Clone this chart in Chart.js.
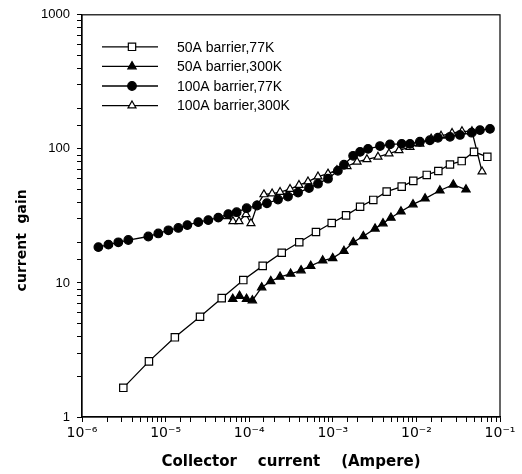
<!DOCTYPE html>
<html>
<head>
<meta charset="utf-8">
<script src="https://cdn.jsdelivr.net/npm/chart.js@4.4.0/dist/chart.umd.min.js"></script>
<style>
  html, body { margin: 0; padding: 0; background: #fff; }
  #wrap { width: 522px; height: 474px; position: relative; }
</style>
</head>
<body>
<div id="wrap"><canvas id="container"></canvas></div>
<script>
// collector current (A) and current gain
const b50_77K_current = [3.12e-6, 6.32e-6, 1.29e-5, 2.58e-5, 4.69e-5, 8.5e-5, 1.45e-4, 2.45e-4, 3.97e-4, 6.29e-4, 9.7e-4, 1.44e-3, 2.12e-3, 3.05e-3, 4.41e-3, 6.67e-3, 9.18e-3, 1.33e-2, 1.83e-2, 2.52e-2, 3.48e-2, 4.89e-2, 7.05e-2];
const b50_77K_gain = [1.65, 2.6, 3.93, 5.59, 7.7, 10.5, 13.4, 16.8, 20.1, 24.0, 28.0, 31.9, 37.0, 41.6, 48.0, 52.3, 57.7, 63.9, 68.4, 76.5, 81.1, 95.0, 87.2];

const b50_300K_current = [6.35e-5, 7.66e-5, 9.29e-5, 1.09e-4, 1.41e-4, 1.81e-4, 2.34e-4, 3.13e-4, 4.17e-4, 5.44e-4, 7.57e-4, 9.97e-4, 1.36e-3, 1.76e-3, 2.32e-3, 3.2e-3, 3.98e-3, 4.96e-3, 6.54e-3, 9.1e-3, 1.27e-2, 1.91e-2, 2.76e-2, 3.92e-2];
const b50_300K_gain = [7.6, 8.0, 7.6, 7.4, 9.26, 10.3, 11.1, 11.7, 12.4, 13.4, 14.7, 15.3, 17.3, 20.1, 22.3, 25.4, 27.8, 30.6, 34.1, 38.5, 42.6, 48.9, 54.1, 49.7];

const b100_77K_current = [1.57e-6, 2.07e-6, 2.72e-6, 3.58e-6, 6.21e-6, 8.18e-6, 1.08e-5, 1.42e-5, 1.82e-5, 2.46e-5, 3.24e-5, 4.27e-5, 5.62e-5, 7.08e-5, 9.33e-5, 1.24e-4, 1.63e-4, 2.21e-4, 2.91e-4, 3.84e-4, 5.19e-4, 6.65e-4, 8.76e-4, 1.15e-3, 1.36e-3, 1.75e-3, 2.12e-3, 2.64e-3, 3.67e-3, 4.83e-3, 6.67e-3, 8.38e-3, 1.1e-2, 1.45e-2, 1.81e-2, 2.52e-2, 3.32e-2, 4.58e-2, 5.76e-2, 7.59e-2];
const b100_77K_gain = [18.5, 19.3, 20.1, 20.9, 22.2, 23.4, 24.7, 25.7, 27.0, 28.4, 29.4, 30.7, 32.6, 33.7, 36.1, 37.8, 39.3, 41.9, 44.1, 47.2, 51.0, 55.0, 59.9, 68.7, 76.1, 88.8, 95.0, 100, 105, 108, 109, 109, 113, 116, 121, 123, 127, 132, 138, 141];

const b100_300K_current = [5.42e-5, 6.39e-5, 7.55e-5, 9.16e-5, 1.05e-4, 1.24e-4, 1.5e-4, 1.88e-4, 2.34e-4, 3.08e-4, 3.94e-4, 5.05e-4, 6.65e-4, 8.76e-4, 1.12e-3, 1.48e-3, 1.95e-3, 2.56e-3, 3.47e-3, 4.7e-3, 6.19e-3, 8.38e-3, 1.1e-2, 1.5e-2, 1.97e-2, 2.67e-2, 3.51e-2, 4.62e-2, 6.1e-2];
const b100_300K_gain = [31.4, 28.8, 28.8, 32.5, 27.8, 37.8, 45.7, 46.4, 47.6, 50.1, 53.7, 57.0, 62.1, 65.3, 69.3, 74.2, 80.1, 83.6, 87.2, 92.3, 97.5, 103, 109, 119, 125, 131, 135, 135, 67.6];

const seriesLabels = ["50A barrier,77K", "50A barrier,300K", "100A barrier,77K", "100A barrier,300K"];
const xTickLabels = { "-6": "10⁻⁶", "-5": "10⁻⁵", "-4": "10⁻⁴", "-3": "10⁻³", "-2": "10⁻²", "-1": "10⁻¹" };
const yTickLabels = { "0": "1", "1": "10", "2": "100", "3": "1000" };

const toPoints = (xs, ys) => xs.map((x, i) => ({ x: x, y: ys[i] }));

function decade(v) {
  const l = Math.log10(v);
  const r = Math.round(l);
  return Math.abs(l - r) < 1e-6 ? String(r) : null;
}

const ctx = document.getElementById("container");

const styles = [
  { pointStyle: "rect", pointRadius: 5.2, pointBackgroundColor: "#fff" },
  { pointStyle: "triangle", pointRadius: 4.8, pointBackgroundColor: "#000" },
  { pointStyle: "circle", pointRadius: 4.3, pointBackgroundColor: "#000" },
  { pointStyle: "triangle", pointRadius: 4.6, pointBackgroundColor: "#fff" },
];
const allData = [
  toPoints(b50_77K_current, b50_77K_gain),
  toPoints(b50_300K_current, b50_300K_gain),
  toPoints(b100_77K_current, b100_77K_gain),
  toPoints(b100_300K_current, b100_300K_gain),
];

const datasets = [];
for (let i = 0; i < allData.length; i++) {
  datasets.push({
    label: seriesLabels[i],
    data: allData[i],
    borderColor: "#000",
    backgroundColor: "#000",
    borderWidth: 1.3,
    pointBorderColor: "#000",
    pointBorderWidth: 1.2,
    tension: 0,
    ...styles[i],
  });
}

// legend drawn inside the plot, line + marker like the original figure
const boxLegend = {
  id: "boxLegend",
  afterDraw(chart) {
    const c = chart.ctx;
    const a = chart.chartArea;
    c.save();
    // frame on all four sides
    c.strokeStyle = "#000";
    c.lineWidth = 1.2;
    c.strokeRect(a.left, a.top, a.right - a.left, a.bottom - a.top);
    chart.data.datasets.forEach((ds, i) => {
      const y = a.top + 32 + i * 19.6;
      c.strokeStyle = "#000";
      c.lineWidth = 1.3;
      c.beginPath();
      c.moveTo(a.left + 20, y);
      c.lineTo(a.left + 76, y);
      c.stroke();
      c.fillStyle = ds.pointBackgroundColor;
      c.strokeStyle = "#000";
      c.lineWidth = 1.2;
      Chart.helpers.drawPoint(c, { pointStyle: ds.pointStyle, radius: ds.pointRadius, borderWidth: 1.2, rotation: 0 }, a.left + 50, y);
      c.fillStyle = "#000";
      c.font = "14px 'Liberation Sans', Arial, sans-serif";
      c.textBaseline = "middle";
      c.textAlign = "left";
      c.fillText(ds.label, a.left + 95, y + 1);
    });
    c.restore();
  },
};

new Chart(ctx, {
  type: "line",
  data: { datasets: datasets },
  plugins: [boxLegend],
  options: {
    responsive: true,
    maintainAspectRatio: false,
    animation: false,
    layout: { padding: { left: 0, top: 12, right: 22, bottom: 0 } },
    plugins: {
      legend: { display: false },
      tooltip: { enabled: false },
    },
    scales: {
      x: {
        type: "logarithmic",
        position: "bottom",
        min: 1e-6,
        max: 0.1,
        afterFit: (s) => { s.height = 57; },
        grid: { drawOnChartArea: false, drawTicks: true, tickLength: 5, color: "#000" },
        border: { display: true, color: "#000", width: 1.2 },
        ticks: {
          autoSkip: false,
          maxRotation: 0,
          padding: 3,
          color: "#000",
          font: { size: 14, family: "'DejaVu Sans', sans-serif" },
          callback: (v) => { const d = decade(v); return d !== null && xTickLabels[d] ? xTickLabels[d] : ""; },
        },
        title: {
          display: true,
          text: "Collector    current    (Ampere)",
          color: "#000",
          padding: { top: 0, bottom: 3 },
          font: { size: 15, weight: "bold", family: "'DejaVu Sans', sans-serif" },
        },
      },
      y: {
        type: "logarithmic",
        min: 1,
        max: 1000,
        afterFit: (s) => { s.width = 82; },
        grid: { drawOnChartArea: false, drawTicks: true, tickLength: 5, color: "#000" },
        border: { display: true, color: "#000", width: 1.2 },
        ticks: {
          autoSkip: false,
          padding: 7,
          color: "#000",
          font: { size: 13, family: "'Liberation Sans', Arial, sans-serif" },
          callback: (v) => { const d = decade(v); return d !== null && yTickLabels[d] ? yTickLabels[d] : ""; },
        },
        title: {
          display: true,
          text: "current  gain          ",
          color: "#000",
          padding: { top: 14, bottom: 0 },
          font: { size: 14, weight: "bold", family: "'DejaVu Sans', sans-serif" },
        },
      },
    },
  },
});
</script>
</body>
</html>
